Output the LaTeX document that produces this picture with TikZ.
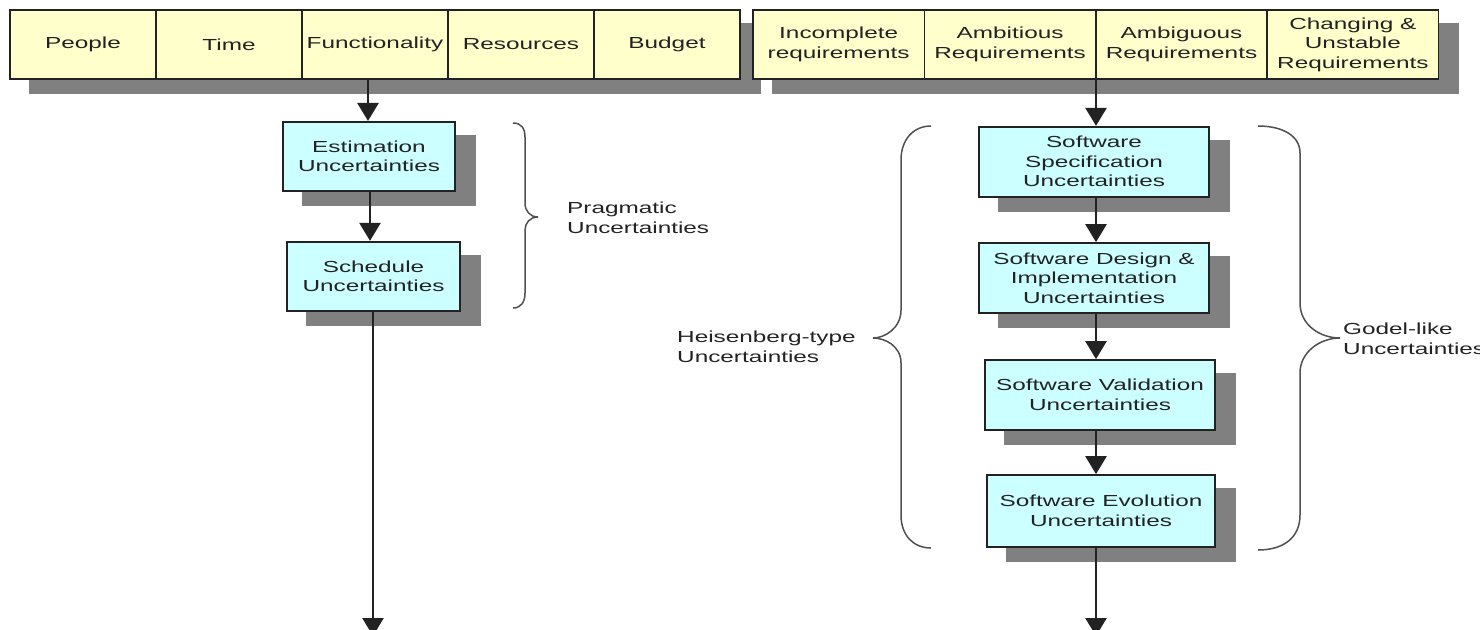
\documentclass[tikz,border=0pt]{standalone}
\usepackage{fontspec}
\newfontfamily\diagfont[FakeStretch=1.52]{Liberation Sans}
\usetikzlibrary{arrows.meta,backgrounds}
\definecolor{cellyellow}{HTML}{FFFFCC}
\definecolor{boxcyan}{HTML}{CCFFFF}
\definecolor{shadowgray}{HTML}{808080}
\definecolor{ink}{HTML}{222222}
\definecolor{bracegray}{HTML}{505050}
\begin{document}
\begin{tikzpicture}[x=1pt,y=-1pt,
  txt/.style={font=\diagfont\fontsize{16}{19.5}\selectfont, text=ink, align=center},
  cell/.style={txt, draw=ink, line width=1.7pt, fill=cellyellow, minimum height=69pt, inner sep=0pt},
  lcell/.style={cell, minimum width=146pt},
  rcell/.style={cell, minimum width=171.4pt},
  ubox/.style={txt, draw=ink, line width=1.7pt, fill=boxcyan, inner sep=0pt},
  shade/.style={fill=shadowgray},
  arr/.style={draw=ink, line width=2.6pt, -{Triangle[width=21pt,length=18pt]}},
  bracepath/.style={draw=bracegray, line width=1.5pt},
  lbl/.style={txt, align=left, anchor=west, inner sep=0pt}
]
\useasboundingbox (0,0) rectangle (1480,629);

% top left bar
\node[lcell] (people) at (83,44.5) {People};
\node[lcell] (time) at (229,44.5) {Time};
\node[lcell] (func) at (375,44.5) {Functionality};
\node[lcell] (res) at (521,44.5) {Resources};
\node[lcell] (budget) at (667,44.5) {Budget};

% top right bar
\node[rcell] (incomp) at (838.7,44.5) {Incomplete\\requirements};
\node[rcell] (ambit) at (1010.1,44.5) {Ambitious\\Requirements};
\node[rcell] (ambig) at (1181.5,44.5) {Ambiguous\\Requirements};
\node[rcell] (chang) at (1352.9,44.5) {Changing \&\\Unstable\\Requirements};

% left column
\node[ubox, minimum width=172pt, minimum height=69pt] (est) at (369,156.3) {Estimation\\Uncertainties};
\node[ubox, minimum width=173pt, minimum height=69pt] (sch) at (373.5,276.2) {Schedule\\Uncertainties};

% right column
\node[ubox, minimum width=230pt, minimum height=70pt] (spec) at (1094,161.7) {Software\\Specification\\Uncertainties};
\node[ubox, minimum width=230pt, minimum height=70pt] (des) at (1094,278) {Software Design \&\\Implementation\\Uncertainties};
\node[ubox, minimum width=230pt, minimum height=70pt] (val) at (1100,395) {Software Validation\\Uncertainties};
\node[ubox, minimum width=228pt, minimum height=72pt] (evo) at (1101,511) {Software Evolution\\Uncertainties};

% shadows
\begin{scope}[on background layer]
  \foreach \a/\b in {people/budget,incomp/chang,est/est,sch/sch,spec/spec,des/des,val/val,evo/evo}
    \fill[shade] ([shift={(20,14)}]\a.north west) rectangle ([shift={(20,14)}]\b.south east);
\end{scope}

% connectors
\coordinate (lx) at (368,0);
\coordinate (rx) at (1096,0);
\coordinate (endl) at (373,636);
\coordinate (endr) at (1096,636);
\draw[arr] (lx |- func.south) -- (lx |- est.north);
\draw[arr] (est.south -| 370,0) -- (sch.north -| 370,0);
\draw[arr] (sch.south -| endl) -- (endl);
\draw[arr] (rx |- ambig.south) -- (rx |- spec.north);
\draw[arr] (rx |- spec.south) -- (rx |- des.north);
\draw[arr] (rx |- des.south) -- (rx |- val.north);
\draw[arr] (rx |- val.south) -- (rx |- evo.north);
\draw[arr] (rx |- evo.south) -- (endr);

% braces
\draw[bracepath] (513,123) .. controls (521,123) and (525,128) .. (525,137) -- (525,203)
  .. controls (525,211) and (530,217) .. (538,217)
  .. controls (530,217) and (525,223) .. (525,230) -- (525,293)
  .. controls (525,302) and (521,308) .. (513,308);
\draw[bracepath] (931,126) .. controls (913,126) and (901,140) .. (901,160) -- (901,310)
  .. controls (901,328) and (885,338) .. (873,338)
  .. controls (885,338) and (901,346) .. (901,363) -- (901,515)
  .. controls (901,535) and (913,548) .. (931,548);
\draw[bracepath] (1258,126) .. controls (1283,126) and (1300,136) .. (1300,153) -- (1300,303)
  .. controls (1300,325) and (1320,338) .. (1340,338)
  .. controls (1320,338) and (1300,352) .. (1300,373) -- (1300,515)
  .. controls (1300,538) and (1283,550) .. (1258,550);

% brace labels
\node[lbl] (prag) at (567,218) {Pragmatic\\Uncertainties};
\node[lbl] (heis) at (677,347) {Heisenberg-type\\Uncertainties};
\node[lbl] (godel) at (1343,339) {Godel-like\\Uncertainties};
\end{tikzpicture}
\end{document}
